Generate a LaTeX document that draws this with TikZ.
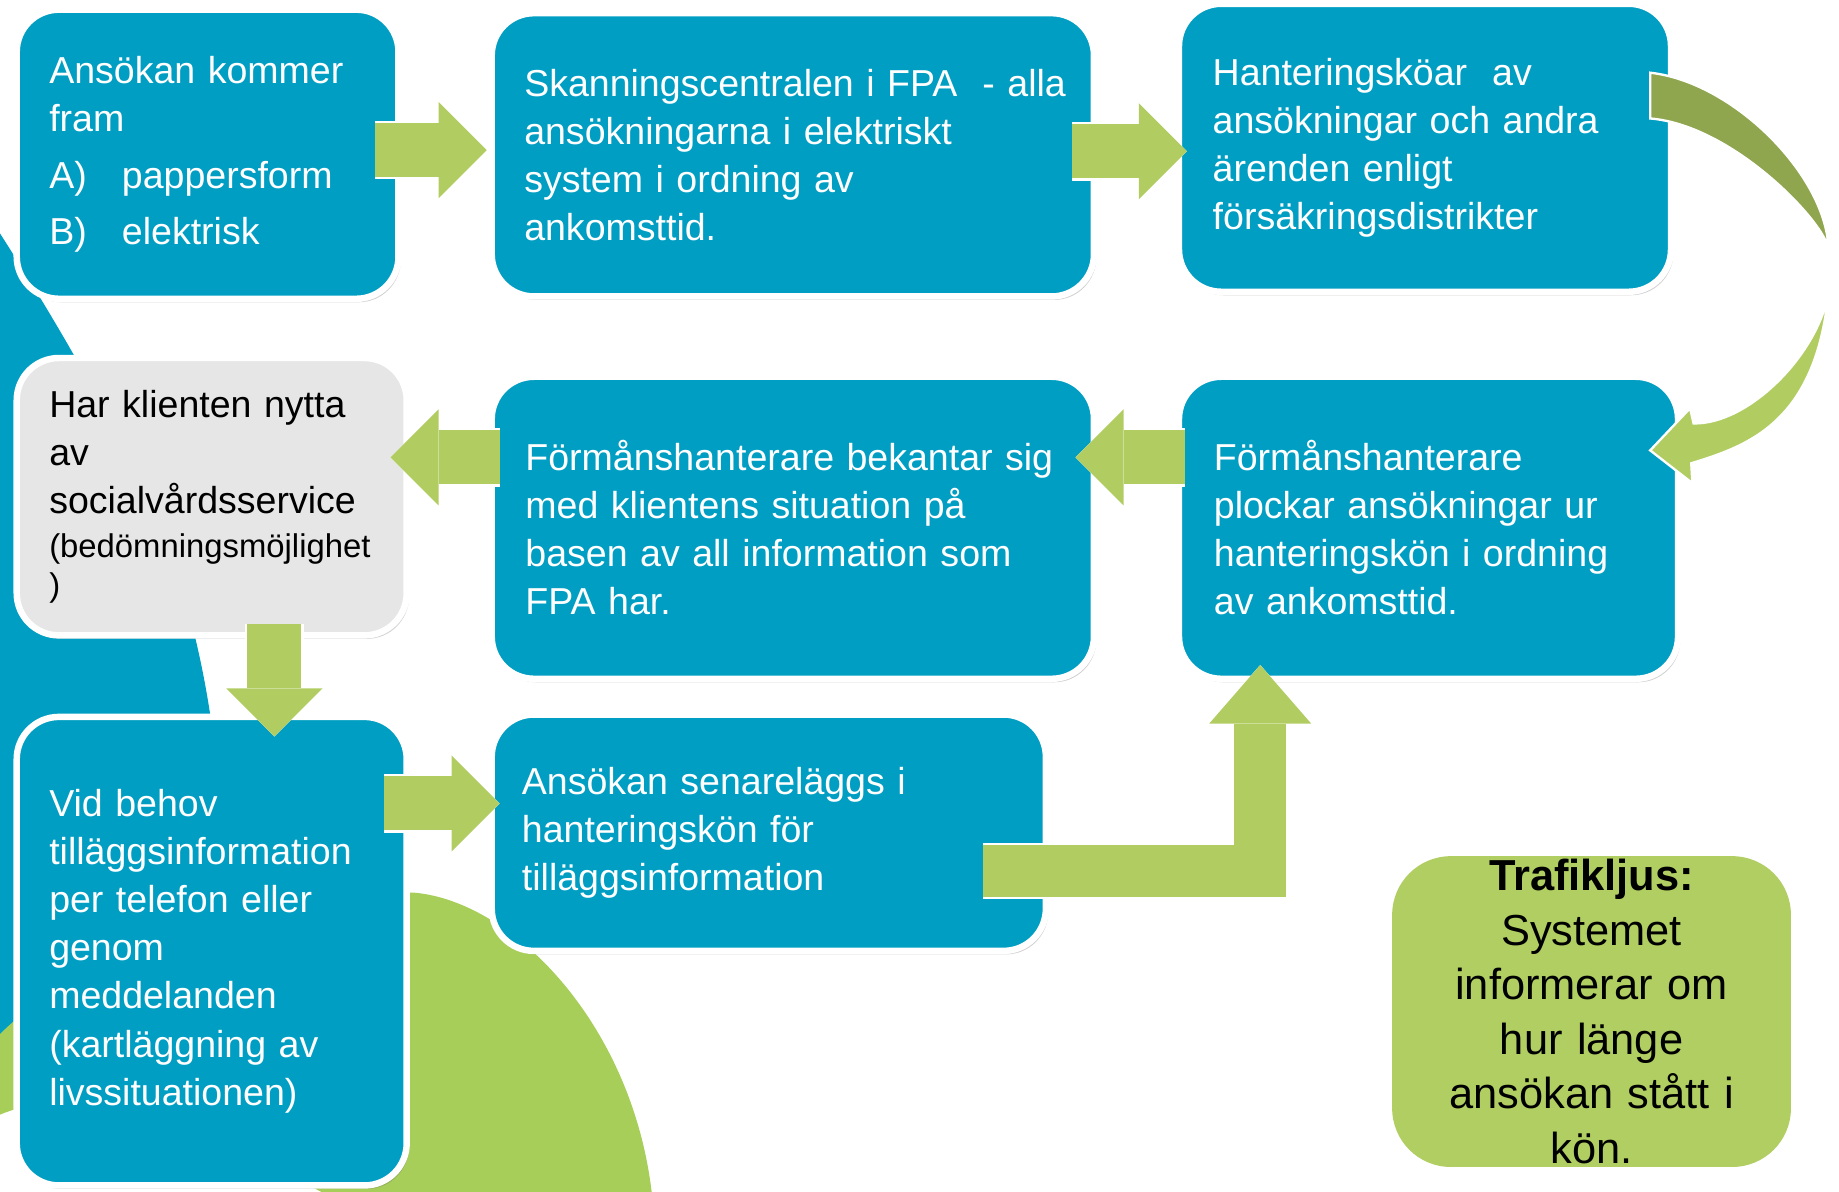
\documentclass[tikz,border=0pt]{standalone}
\usepackage{fontspec}
\setmainfont{Liberation Sans}
\usetikzlibrary{arrows.meta,calc,shadows}

\definecolor{boxblue}{HTML}{019EC3}
\definecolor{boxgray}{HTML}{E6E6E6}
\definecolor{arrowgreen}{HTML}{B1CD62}
\definecolor{olivegreen}{HTML}{8FA64F}
\definecolor{leafgreen}{HTML}{A6CE58}
\definecolor{notegreen}{HTML}{B0CE61}

\begin{document}
\begin{tikzpicture}[
  x=0.5pt, y=-0.5pt,
  stage/.style={draw=white, line width=2.75pt, rounded corners=18pt, fill=boxblue, text=white,
    align=left, inner sep=0pt, outer sep=0pt, font=\fontsize{16}{20.5}\selectfont,
    drop shadow={shadow xshift=1pt, shadow yshift=-1.5pt, opacity=.3, fill=black!60}},
  query/.style={stage, fill=boxgray, text=black},
  note/.style={rounded corners=25pt, fill=notegreen, align=center, inner sep=0pt, outer sep=0pt,
    font=\fontsize{18.5}{23.25}\selectfont},
  flow/.style={line width=23pt, draw=arrowgreen, -{Triangle[width=41pt,length=20.5pt,line width=0pt]},
    preaction={draw=white, line width=25pt, -{Triangle[width=45pt,length=22.5pt,line width=0pt]}}},
  detour/.style={line width=22pt, draw=arrowgreen, line join=miter, -{Triangle[width=43.5pt,length=25pt,line width=0pt]},
    preaction={draw=white, line width=24pt, line join=miter, -{Triangle[width=47.5pt,length=27pt,line width=0pt]}}},
  swing/.style={draw=white, line width=1pt}
]
\useasboundingbox (0,0) rectangle (1568,1016);

% background blobs
\fill[boxblue] (-20,180) -- (0,199) .. controls (40,262) and (140,420) .. (167,546)
  .. controls (175,580) and (182,620) .. (185,660) .. controls (190,760) and (120,860) .. (-20,900) -- cycle;
\fill[leafgreen] (-60,1000) .. controls (-50,860) and (150,760) .. (352,761)
  .. controls (440,768) and (545,880) .. (557,1030) -- (300,1030)
  .. controls (150,950) and (20,890) .. (-60,1000) -- cycle;

% process steps
\node[stage, minimum width=162.75pt, minimum height=123.25pt, text width=135pt] (ansoek) at (177,131.5)
  {Ansökan kommer\\ fram\\[3.75pt] \makebox[31pt][l]{A)}pappersform\\[3.5pt] \makebox[31pt][l]{B)}elektrisk};
\node[stage, minimum width=256.75pt, minimum height=120.75pt, text width=229pt] (skann) at (676,132)
  {\mbox{Skanningscentralen i FPA~ - alla}\\ ansökningarna i elektriskt\\ system i ordning av\\ ankomsttid.};
\node[stage, minimum width=209.75pt, minimum height=122.75pt, text width=181pt] (hanter) at (1215,126)
  {Hanteringsköar~ av\\ ansökningar och andra\\ ärenden enligt\\ försäkringsdistrikter};
\node[query, minimum width=166.25pt, minimum height=118.25pt, text width=138.5pt] (klient) at (180.5,423.5)
  {Har klienten nytta\\ av\\ socialvårdsservice\\[-1.5pt] {\fontsize{14}{16.5}\selectfont(bedömningsmöjlighet}\\[-4pt] {\fontsize{14}{16.5}\selectfont)}};
\node[stage, minimum width=256.75pt, minimum height=128.75pt, text width=228pt] (bekant) at (676,450)
  {Förmånshanterare bekantar sig\\ med klientens situation på\\ basen av all information som\\ FPA har.};
\node[stage, minimum width=212.75pt, minimum height=128.75pt, text width=183pt] (plock) at (1218,450)
  {Förmånshanterare\\ plockar ansökningar ur\\ hanteringskön i ordning\\ av ankomsttid.};
\node[stage, minimum width=166.25pt, minimum height=199.75pt, text width=138.5pt] (behov) at (180.5,811)
  {Vid behov\\ tilläggsinformation\\ per telefon eller\\ genom\\ meddelanden\\ (kartläggning av\\ livssituationen)};
\node[stage, minimum width=236.25pt, minimum height=100.75pt, text width=210.5pt] (senare) at (655.5,710)
  {Ansökan senareläggs i\\ hanteringskön för\\ tilläggsinformation};
\node[note, minimum width=170pt, minimum height=132.5pt, text width=160pt] (trafik) at (1357,862.5)
  {\textbf{Trafikljus:}\\ Systemet\\ informerar om\\ hur länge\\ ansökan stått i\\ kön.\hspace*{10pt}};

% block arrows
\draw[flow] ([shift={(-19.75,-3.5)}]ansoek.east) -- ([shift={(-4.25,-4)}]skann.west);
\draw[flow] ([shift={(-18.75,-3)}]skann.east) -- ([shift={(6.75,3)}]hanter.west);
\draw[flow] ([shift={(4.75,-60)}]plock.west) -- ([shift={(-15.75,-60)}]bekant.east);
\draw[flow] ([shift={(6.75,-60)}]bekant.west) -- ([shift={(-13.75,-33.5)}]klient.east);
\draw[flow] ([shift={(53.5,-9.75)}]klient.south) -- ([shift={(53.5,16.75)}]behov.north);
\draw[flow] ([shift={(-19.75,-126)}]behov.east) -- ([shift={(6.75,-25)}]senare.west);
\draw[detour] ([shift={(-53.75,32.5)}]senare.east) -| ([shift={(-143.5,-11.75)}]plock.south);

% curved arrow from the queues down to the pick-up step
\fill[olivegreen, swing] (1407,62) .. controls (1479,70) and (1558,151) .. (1559,213)
  .. controls (1558,192) and (1479,107) .. (1407,101) -- cycle;
\fill[arrowgreen, swing] (1559,250) .. controls (1548,360) and (1491,380) .. (1442,395)
  -- (1443,412) -- (1407,384) -- (1441,348) -- (1444,361)
  .. controls (1490,362) and (1549,304) .. (1559,250) -- cycle;
\end{tikzpicture}
\end{document}
